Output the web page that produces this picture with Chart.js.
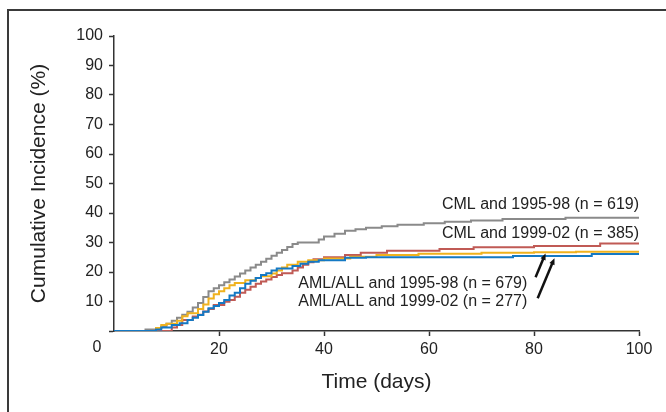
<!DOCTYPE html>
<html>
<head>
<meta charset="utf-8">
<script src="https://cdn.jsdelivr.net/npm/chart.js@4/dist/chart.umd.min.js"></script>
<style>
body{margin:0;background:#fff;}
#wrap{position:relative;width:666px;height:412px;}
</style>
</head>
<body>
<div id="wrap"><canvas id="incChart" width="666" height="412"></canvas></div>
<script>
// step curves (days, cumulative incidence %)
const amlNewDays=[0,8,9,11,12.5,14,15,16,17,18,19,20,21,22,23,24,25,26,27,28,29,30,31,34,35.5,37,39,44,48,76,91,100];
const amlNewPct =[0,0.5,1.2,2,2.6,3.7,4.5,5.4,6.5,7.7,8.5,9.5,10.5,12,13,14.5,16,17,18,19,19.6,20.5,21.2,22,22.8,23.5,24,24.8,25,25.4,26.1,26.1];

const amlOldDays=[0,8,9,10,12,13,14,16,17,18,19,20,21,22,23,25,27,28,30,31,32,33,35,37,40,45,50,58,70,80,88,100];
const amlOldPct =[0,1,2,2.5,3.5,5,6,7.5,9,11,12.5,13.5,14.5,15.5,16.3,17.2,18,18.6,19.5,20.5,21.5,22.5,23.5,24,24.6,25.2,25.8,26.2,26.5,26.7,26.9,26.9];

const cmlNewDays=[0,11,12,13,15,16,17,18,19,21,22,23,24,25,26,27,28,29,30,31,32,34,35,36,37,38,40,44,47,52,62,68.5,80,92.6,100];
const cmlNewPct =[0,1.2,2,3.7,4.9,5.5,6.6,7.5,8.8,9.9,10.5,11.6,13,14,15,16,16.8,17.5,18.3,19,19.6,20.5,21.5,22.5,23.3,24.3,25,25.8,26.5,27.2,27.8,28.4,28.8,29.7,29.7];

const cmlOldDays=[0,6,8,9,10,11,12,13,14,15,16,17,18,19,20,21,22,23,24,25,26,27,28,29,30,31,32,33,34,35,39,40,42,44,46,48,51,54,59,63,68,74,86,100];
const cmlOldPct =[0,0.5,1,1.5,2.5,3.5,4.5,5.5,6.5,8,9.5,11.5,13.5,14.5,15.5,16.5,17.5,18.5,19.5,20.5,21.5,22.5,23.5,24.5,25.5,26.5,27.5,28.5,29.5,30,31,32,33,34,34.5,35,35.5,36,36.5,37,37.5,38,38.4,38.4];

const xTicks=[0,20,40,60,80,100];
const yTicks=[0,10,20,30,40,50,60,70,80,90,100];

// curve labels and their arrows (data units)
const curveLabels=[
    {text:"CML and 1995-98 (n = 619)",x:100,y:42.7,align:"right"},
    {text:"CML and 1999-02 (n = 385)",x:100,y:33,align:"right"},
    {text:"AML/ALL and 1995-98 (n = 679)",x:35.1,y:16.1,align:"left"},
    {text:"AML/ALL and 1999-02 (n = 277)",x:35.1,y:10,align:"left"}
];
const arrows=[
    {from:[80.3,18.2],to:[82.2,26.3]},
    {from:[80.7,11.1],to:[83.9,24.7]}
];

function toPoints(days,pct){
    var pts=[];
    for(var i=0;i<days.length;i++){
        pts.push({x:days[i],y:pct[i]});
    }
    return pts;
}

function makeSet(label,days,pct,color){
    return {
        label:label,
        data:toPoints(days,pct),
        borderColor:color,
        backgroundColor:color,
        borderWidth:2,
        stepped:"before",
        pointRadius:0,
        fill:false
    };
}

const FONT="'Liberation Sans', Arial, sans-serif";

const decorations={
    id:"decorations",
    beforeDraw(chart){
        const ctx=chart.ctx;
        ctx.save();
        ctx.strokeStyle="#3a3a3a";
        ctx.lineWidth=2;
        ctx.beginPath();
        ctx.moveTo(666,10);
        ctx.lineTo(8,10);
        ctx.lineTo(8,412);
        ctx.stroke();
        ctx.restore();
    },
    afterDraw(chart){
        const ctx=chart.ctx;
        const xs=chart.scales.x, ys=chart.scales.y;
        ctx.save();
        // shared origin label
        ctx.fillStyle="#222";
        ctx.font="16px "+FONT;
        ctx.textAlign="center";
        ctx.textBaseline="middle";
        ctx.fillText("0",xs.left-17,xs.top+17);

        ctx.textBaseline="middle";
        curveLabels.forEach(function(l){
            ctx.textAlign=l.align;
            ctx.fillText(l.text,xs.getPixelForValue(l.x),ys.getPixelForValue(l.y));
        });

        ctx.strokeStyle="#111";
        ctx.fillStyle="#111";
        ctx.lineWidth=2.5;
        arrows.forEach(function(a){
            const x1=xs.getPixelForValue(a.from[0]), y1=ys.getPixelForValue(a.from[1]);
            const x2=xs.getPixelForValue(a.to[0]), y2=ys.getPixelForValue(a.to[1]);
            const ang=Math.atan2(y2-y1,x2-x1);
            const hl=7;
            ctx.beginPath();
            ctx.moveTo(x1,y1);
            ctx.lineTo(x2-Math.cos(ang)*hl*0.8,y2-Math.sin(ang)*hl*0.8);
            ctx.stroke();
            ctx.beginPath();
            ctx.moveTo(x2,y2);
            ctx.lineTo(x2-hl*Math.cos(ang-0.4),y2-hl*Math.sin(ang-0.4));
            ctx.lineTo(x2-hl*Math.cos(ang+0.4),y2-hl*Math.sin(ang+0.4));
            ctx.closePath();
            ctx.fill();
        });
        ctx.restore();
    }
};

let incChart=new Chart(document.getElementById("incChart").getContext("2d"),{
    type:"line",
    data:{
        datasets:[
            makeSet("AML/ALL and 1999-02",amlNewDays,amlNewPct,"#1479c4"),
            makeSet("AML/ALL and 1995-98",amlOldDays,amlOldPct,"#f0b21e"),
            makeSet("CML and 1999-02",cmlNewDays,cmlNewPct,"#c05a55"),
            makeSet("CML and 1995-98",cmlOldDays,cmlOldPct,"#8a8a8a")
        ]
    },
    options:{
        responsive:false,
        animation:false,
        devicePixelRatio:1,
        layout:{padding:{left:0,right:27,top:36,bottom:0}},
        plugins:{
            legend:{display:false},
            tooltip:{enabled:false}
        },
        scales:{
            x:{
                type:"linear",
                min:0,max:100,
                afterBuildTicks:function(s){s.ticks=xTicks.map(function(v){return {value:v};});},
                afterFit:function(s){s.height=81;},
                ticks:{
                    color:"#222",
                    font:{family:FONT,size:16},
                    padding:4,
                    maxRotation:0,
                    callback:function(v){return v===0?"":v;}
                },
                grid:{
                    drawOnChartArea:false,
                    tickLength:5,
                    tickWidth:1.5,
                    color:function(c){return c.tick&&c.tick.value===0?"rgba(0,0,0,0)":"#333";}
                },
                border:{color:"#333",width:1.5},
                title:{
                    display:true,
                    text:"Time (days)",
                    color:"#222",
                    font:{family:FONT,size:21},
                    padding:{top:0,bottom:17}
                }
            },
            y:{
                min:0,max:100,
                afterBuildTicks:function(s){s.ticks=yTicks.map(function(v){return {value:v};});},
                afterFit:function(s){s.width=114;},
                ticks:{
                    color:"#222",
                    font:{family:FONT,size:16},
                    padding:6,
                    callback:function(v){return v===0?"":v;}
                },
                grid:{
                    drawOnChartArea:false,
                    tickLength:5,
                    tickWidth:1.5,
                    color:"#333"
                },
                border:{color:"#333",width:1.5},
                title:{
                    display:true,
                    text:"Cumulative Incidence (%)",
                    color:"#222",
                    font:{family:FONT,size:21},
                    padding:{top:27,bottom:0}
                }
            }
        }
    },
    plugins:[decorations]
});
</script>
</body>
</html>
